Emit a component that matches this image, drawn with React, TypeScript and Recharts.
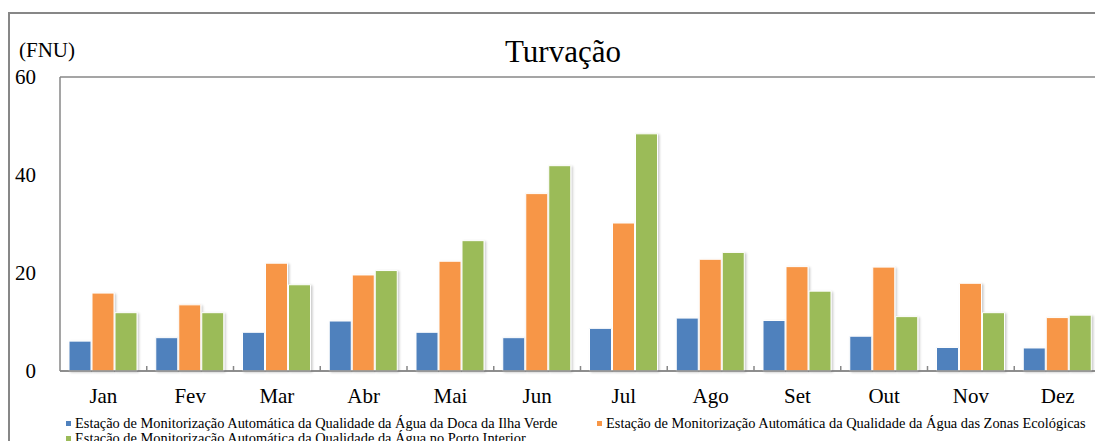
import React from 'react';
import { BarChart, Bar, XAxis, YAxis, CartesianGrid } from 'recharts';

const months = ['Jan', 'Fev', 'Mar', 'Abr', 'Mai', 'Jun', 'Jul', 'Ago', 'Set', 'Out', 'Nov', 'Dez'];
const ilhaVerde = [6.1, 6.8, 7.9, 10.2, 7.9, 6.8, 8.7, 10.8, 10.3, 7.1, 4.8, 4.7];
const zonasEcologicas = [15.9, 13.5, 22.0, 19.6, 22.4, 36.2, 30.2, 22.8, 21.3, 21.2, 17.9, 10.9];
const portoInterior = [11.9, 11.9, 17.6, 20.5, 26.6, 41.9, 48.4, 24.2, 16.3, 11.1, 11.9, 11.4];
const yTicks = [0, 20, 40, 60];
const seriesNames = [
  'Estação de Monitorização Automática da Qualidade da Água da Doca da Ilha Verde',
  'Estação de Monitorização Automática da Qualidade da Água das Zonas Ecológicas',
  'Estação de Monitorização Automática da Qualidade da Água no Porto Interior',
];
const seriesColors = ['#4F81BD', '#F79646', '#9BBB59'];
const seriesKeys = ['ilha', 'zonas', 'porto'];

const data = months.map((m, i) => ({
  month: m,
  ilha: ilhaVerde[i],
  zonas: zonasEcologicas[i],
  porto: portoInterior[i],
}));

const FONT = '"Liberation Serif", "Times New Roman", serif';
const GRAY = '#878787';
const W = 1095;
const H = 433;
const BAND = (W - 52 - 2) / 12;

const XTick = (props: any) => {
  const { x, y, payload } = props;
  const off = payload && typeof payload.offset === 'number' && payload.offset > 0 ? payload.offset : BAND / 2;
  const idx = months.indexOf(payload.value);
  return (
    <g>
      {idx > 0 && (
        <line x1={x - off} x2={x - off} y1={y} y2={y - 5} stroke={GRAY} strokeWidth={1.5} />
      )}
      <text x={x} y={y + 32} textAnchor="middle" fontFamily={FONT} fontSize={21} fill="#000">
        {payload.value}
      </text>
    </g>
  );
};

const legendPos = [
  { x: 58, y: 415.5 },
  { x: 589, y: 415.5 },
  { x: 58, y: 430.5 },
];

export default function App() {
  return (
    <div style={{ position: 'relative', width: W, height: H }}>
      <div
        style={{
          position: 'absolute',
          left: 0,
          top: 4,
          width: W - 2,
          height: H - 4,
          borderLeft: `2px solid ${GRAY}`,
          borderTop: `2px solid ${GRAY}`,
        }}
      />
      <div style={{ position: 'absolute', left: 0, top: 0 }}>
        <BarChart
          width={W}
          height={H}
          data={data}
          margin={{ top: 69, right: 2, bottom: 30, left: 0 }}
          barSize={22}
          barGap={1}
        >
          <defs>
            <filter id="barShadow" x="-20%" y="-20%" width="150%" height="150%">
              <feDropShadow dx="1.5" dy="1" stdDeviation="1" floodColor="#000" floodOpacity="0.22" />
            </filter>
          </defs>
          <CartesianGrid vertical={false} stroke={GRAY} strokeWidth={1.5} />
          <XAxis
            dataKey="month"
            height={40}
            axisLine={{ stroke: GRAY, strokeWidth: 1.5 }}
            tickLine={false}
            tickSize={0}
            tickMargin={0}
            tick={<XTick />}
            interval={0}
          />
          <YAxis
            yAxisId="l"
            width={52}
            domain={[0, 60]}
            ticks={yTicks}
            axisLine={{ stroke: GRAY, strokeWidth: 1.5 }}
            tickLine={false}
            tickSize={0}
            tickMargin={24}
            tick={{ fontFamily: FONT, fontSize: 21, fill: '#000' }}
          />
          <YAxis
            yAxisId="r"
            orientation="right"
            width={0}
            domain={[0, 60]}
            ticks={yTicks}
            axisLine={{ stroke: GRAY, strokeWidth: 1.5 }}
            tickLine={false}
            tick={false}
          />
          {seriesKeys.map((k, i) => (
            <Bar
              key={k}
              yAxisId="l"
              dataKey={k}
              name={seriesNames[i]}
              fill={seriesColors[i]}
              stroke="#ffffff"
              strokeWidth={1}
              filter="url(#barShadow)"
              isAnimationActive={false}
            />
          ))}
          <text x={555} y={54} textAnchor="middle" fontFamily={FONT} fontSize={31} fill="#000">
            Turvação
          </text>
          <text x={11} y={49} fontFamily={FONT} fontSize={21} fill="#000">
            (FNU)
          </text>
          {seriesNames.map((n, i) => (
            <g key={n}>
              <rect x={legendPos[i].x} y={legendPos[i].y - 2.5} width={5} height={5} fill={seriesColors[i]} />
              <text
                x={legendPos[i].x + 9}
                y={legendPos[i].y + 4.5}
                fontFamily={FONT}
                fontSize={14.4}
                fill="#000"
              >
                {n}
              </text>
            </g>
          ))}
        </BarChart>
      </div>
    </div>
  );
}
